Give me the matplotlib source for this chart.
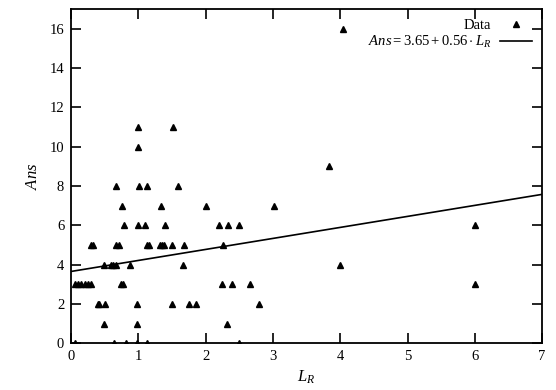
import numpy as np
import matplotlib
matplotlib.use("Agg")
from matplotlib import pyplot as plt

plt.rcParams['font.family'] = ['Liberation Serif', 'DejaVu Serif']
plt.rcParams['mathtext.fontset'] = 'custom'
plt.rcParams['mathtext.rm'] = 'Liberation Serif'
plt.rcParams['mathtext.it'] = 'Liberation Serif:italic'

# data (L_R, Ans)
lr = [4.04,
      1.0, 1.52,
      1.0,
      3.83,
      0.67, 1.01, 1.13, 1.59,
      0.75, 1.34, 2.0, 3.02,
      0.79, 1.0, 1.1, 1.4, 2.2, 2.33, 2.5, 6.0,
      0.3, 0.33, 0.66, 0.71, 1.13, 1.16, 1.32, 1.35, 1.38, 1.5, 1.67, 2.25,
      0.49, 0.59, 0.62, 0.67, 0.87, 1.66, 4.0,
      0.05, 0.1, 0.15, 0.2, 0.25, 0.29, 0.74, 0.77, 2.24, 2.39, 2.66, 6.0,
      0.4, 0.42, 0.5, 0.98, 1.5, 1.75, 1.85, 2.79,
      0.49, 0.98, 2.32,
      0.06, 0.64, 0.82, 0.98, 1.13, 2.49]
ans = [16,
       11, 11,
       10,
       9,
       8, 8, 8, 8,
       7, 7, 7, 7,
       6, 6, 6, 6, 6, 6, 6, 6,
       5, 5, 5, 5, 5, 5, 5, 5, 5, 5, 5, 5,
       4, 4, 4, 4, 4, 4, 4,
       3, 3, 3, 3, 3, 3, 3, 3, 3, 3, 3, 3,
       2, 2, 2, 2, 2, 2, 2, 2,
       1, 1, 1,
       0, 0, 0, 0, 0, 0]

intercept = 3.65
slope = 0.56
xticks = [0, 1, 2, 3, 4, 5, 6, 7]
yticks = [0, 2, 4, 6, 8, 10, 12, 14, 16]

fig = plt.figure(figsize=(5.56, 3.90), dpi=100)
ax = fig.add_axes([0.128, 0.12, 0.847, 0.857])

ax.plot(lr, ans, linestyle='none', marker='^', color='black', markersize=3.8, label='Data')
xs = np.array([0, 7])
ax.plot(xs, intercept + slope * xs, color='black', lw=1.2,
        label=r'$Ans = 3.65 + 0.56 \cdot L_R$')

ax.set_xlim(0, 7)
ax.set_ylim(0, 17)
ax.set_xticks(xticks)
ax.set_yticks(yticks)
ax.tick_params(direction='in', length=7, width=1.2, top=True, right=True,
               labelsize=10.5, pad=5)
for s in ax.spines.values():
    s.set_linewidth(1.3)

ax.set_xlabel(r'$L_R$', fontsize=12, labelpad=4)
ax.set_ylabel(r'$Ans$', fontsize=12, labelpad=6)

ax.legend(loc='upper right', frameon=False, markerfirst=False, fontsize=10.5,
          handlelength=2.2, borderaxespad=0.3, labelspacing=0.1, handletextpad=0.6)

fig.savefig('out.png', dpi=100)
